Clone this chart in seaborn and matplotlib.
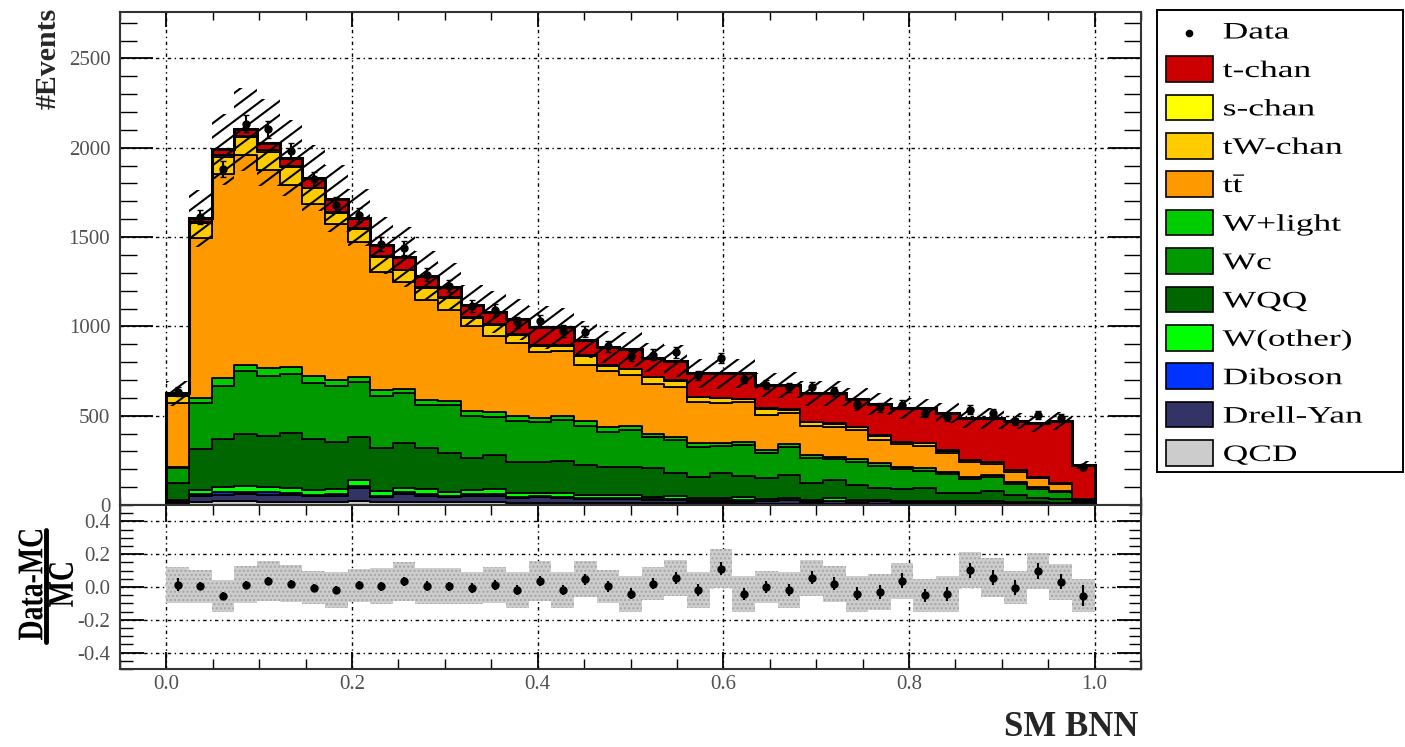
import numpy as np
import pandas as pd
import matplotlib
matplotlib.use("Agg")
import matplotlib.pyplot as plt
from matplotlib.patches import PathPatch, Rectangle
from matplotlib.lines import Line2D
from matplotlib.collections import LineCollection
from matplotlib.textpath import TextPath
from matplotlib.font_manager import FontProperties
from matplotlib.transforms import Affine2D, IdentityTransform
from matplotlib.ticker import MultipleLocator, FormatStrFormatter
import seaborn as sns

# 41 equal bins of the SM BNN output between 0 and 1
n_bins = 41
bin_edges = np.linspace(0.0, 1.0, n_bins + 1)
bin_centers = 0.5 * (bin_edges[:-1] + bin_edges[1:])

# legend order (top of stack first)
processes = ["t-chan", "s-chan", "tW-chan", "ttbar", "W+light", "Wc", "WQQ",
             "W(other)", "Diboson", "Drell-Yan", "QCD"]
labels = ["t-chan", "s-chan", "tW-chan", r"$\mathrm{t\bar{t}}$", "W+light", "Wc", "WQQ",
          "W(other)", "Diboson", "Drell-Yan", "QCD"]
colors = ["#cc0000", "#ffff00", "#ffcc00", "#ff9900", "#00cc00", "#009900", "#006600",
          "#00ff00", "#0033ff", "#333366", "#cccccc"]

# events per bin
tchan = [10, 20, 34, 39, 43, 45, 54, 75, 61, 61, 71, 60, 59, 72, 69, 84, 99, 99, 87, 102, 107,
         107, 109, 132, 138, 143, 132, 138, 159, 168, 153, 171, 187, 192, 208, 233, 243, 274, 299, 345, 192]
schan = [2, 5, 6, 6, 6, 6, 5, 5, 5, 5, 5, 5, 5, 4, 4, 4, 4, 4, 4, 4, 4,
         4, 4, 3, 3, 3, 3, 3, 3, 3, 3, 3, 3, 3, 3, 2, 2, 2, 2, 2, 1]
tw = [44, 87, 96, 101, 105, 102, 89, 63, 70, 83, 64, 66, 63, 46, 61, 44, 34, 30, 52, 30, 33,
      37, 37, 25, 28, 14, 35, 19, 21, 16, 16, 26, 10, 16, 16, 11, 11, 8, 7, 8, 3]
ttbar = [359, 893, 1143, 1174, 1106, 1016, 962, 873, 755, 662, 600, 563, 512, 476, 425, 410, 368, 363, 313, 315, 285,
         277, 276, 233, 224, 224, 195, 172, 162, 168, 163, 130, 127, 125, 103, 81, 61, 56, 47, 35, 1]
wlight = [5, 28, 45, 34, 47, 38, 37, 34, 28, 32, 24, 28, 23, 26, 28, 26, 23, 23, 28, 24, 23,
          20, 20, 20, 15, 18, 18, 16, 18, 15, 16, 15, 14, 13, 12, 12, 13, 12, 10, 10, 4]
wc = [84, 261, 298, 352, 335, 331, 315, 311, 308, 294, 277, 242, 270, 237, 214, 230, 224, 227, 218, 199, 205,
      175, 181, 170, 153, 174, 141, 157, 137, 115, 128, 125, 110, 99, 105, 77, 75, 62, 55, 38, 5]
wqq = [91, 227, 270, 291, 287, 312, 287, 266, 242, 239, 251, 229, 218, 177, 192, 177, 173, 183, 168, 155, 158,
       160, 131, 115, 139, 117, 114, 128, 95, 102, 84, 63, 65, 68, 47, 49, 60, 41, 22, 20, 11]
wother = [10, 24, 29, 32, 29, 27, 25, 26, 33, 25, 27, 27, 20, 25, 26, 19, 19, 19, 17, 15, 16,
          11, 16, 11, 10, 19, 12, 11, 10, 15, 9, 7, 9, 9, 7, 7, 7, 6, 6, 4, 2]
diboson = [5, 10, 12, 12, 12, 10, 8, 10, 12, 8, 10, 9, 7, 8, 9, 6, 7, 6, 5, 5, 5,
           4, 4, 4, 3, 3, 3, 3, 3, 3, 2, 2, 2, 2, 2, 2, 2, 1, 1, 1, 1]
drellyan = [10, 32, 38, 42, 40, 38, 34, 36, 75, 30, 42, 36, 30, 36, 38, 28, 30, 28, 22, 24, 24,
            20, 20, 16, 16, 14, 12, 18, 10, 12, 10, 14, 8, 8, 7, 6, 6, 4, 4, 3, 2]
qcd = [5, 18, 20, 20, 18, 18, 15, 16, 20, 15, 18, 16, 14, 15, 15, 12, 13, 12, 12, 12, 11,
       10, 10, 9, 9, 9, 8, 8, 7, 8, 7, 7, 6, 6, 6, 5, 5, 4, 4, 4, 3]

data = [634, 1611, 1881, 2135, 2103, 1984, 1824, 1681, 1625, 1460, 1438, 1289, 1226, 1115, 1092, 1023, 1031, 974,
        970, 889, 835, 842, 854, 726, 821, 708, 673, 660, 661, 638, 567, 546, 562, 513, 493, 534, 513, 468, 502, 485, 213]

# relative MC uncertainty per bin (hatched band / grey band)
syst_frac = [0.11, 0.10, 0.10, 0.11, 0.12, 0.11, 0.10, 0.11, 0.10, 0.11, 0.12, 0.11, 0.11, 0.10, 0.11, 0.11, 0.12,
             0.11, 0.11, 0.10, 0.11, 0.10, 0.11, 0.11, 0.12, 0.11, 0.10, 0.11, 0.11, 0.11, 0.11, 0.11, 0.11, 0.10,
             0.11, 0.11, 0.12, 0.10, 0.11, 0.11, 0.10]

series = [tchan, schan, tw, ttbar, wlight, wc, wqq, wother, diboson, drellyan, qcd]
df = pd.concat([pd.DataFrame({"x": bin_centers, "w": vals, "process": p})
                for p, vals in zip(processes, series)], ignore_index=True)

mc_total = np.sum(np.array(series, dtype=float), axis=0)
data = np.array(data, dtype=float)
syst = np.array(syst_frac)
ratio = (data - mc_total) / mc_total
ratio_err = np.sqrt(data) / mc_total

sns.set_style("ticks")
plt.rcParams["font.family"] = ["Liberation Serif", "DejaVu Serif"]
plt.rcParams["mathtext.fontset"] = "custom"
plt.rcParams["mathtext.rm"] = "Liberation Serif"
plt.rcParams["mathtext.bf"] = "Liberation Serif:bold"

W, H = 1405, 747
PX = 100 / 72  # pixels per point
fig = plt.figure(figsize=(W / 100, H / 100), dpi=100)
ax = fig.add_axes([120 / W, 1 - 505 / H, 1021 / W, 493 / H])
ax2 = fig.add_axes([120 / W, 1 - 669 / H, 1021 / W, 164 / H], sharex=ax)


def wide_text(x, y, s, size, sx=1.0, sy=1.0, weight="normal", rotation=0, center=False):
    # ROOT-like stretched text; (x, y) in pixels from top-left
    prop = FontProperties(family="Liberation Serif", weight=weight)
    path = TextPath((0, 0), s, size=size, prop=prop)
    tr = Affine2D().scale(sx * PX, sy * PX).rotate_deg(rotation)
    if center:
        bb = tr.transform_path(path).get_extents()
        tr = tr.translate(x - (bb.x0 + bb.x1) / 2, (H - y) - (bb.y0 + bb.y1) / 2)
    else:
        tr = tr.translate(x, H - y)
    fig.add_artist(PathPatch(tr.transform_path(path), facecolor="black", edgecolor="none",
                             transform=IdentityTransform(), zorder=6))


grid_style = dict(color="black", linestyle=(0, (2.5, 2.5, 1, 2.5)), linewidth=1.0)

# stacked MC
sns.histplot(data=df, x="x", weights="w", hue="process", hue_order=processes, palette=colors,
             multiple="stack", bins=n_bins, binrange=(0, 1), element="step", fill=True, alpha=1,
             edgecolor="black", linewidth=1.3, legend=False, ax=ax)
ax.stairs(mc_total, bin_edges, color="black", linewidth=2.2)

# MC uncertainty band, hatched with shallow ROOT-style lines
band = ax.stairs(mc_total * (1 + syst), bin_edges, baseline=mc_total * (1 - syst), fill=True,
                 facecolor="none", edgecolor="none", linewidth=0)
slope = 0.75 * 1021 / 493
offsets = np.arange(-slope, 1.0, 14 / 493)
hatch = LineCollection([[(0, c), (1, c + slope)] for c in offsets], colors="black",
                       linewidths=1.5, transform=ax.transAxes, zorder=4)
ax.add_collection(hatch, autolim=False)
hatch.set_clip_path(band)

ax.errorbar(bin_centers, data, yerr=np.sqrt(data), fmt="o", color="black", ms=5,
            elinewidth=1.5, capsize=2, zorder=5)

ax.set_xlim(-0.05, 1.05)
ax.set_ylim(0, 2760)
ax.set_axisbelow(True)
ax.grid(True, which="major", **grid_style)
ax.set_xlabel("")
ax.set_ylabel("")
ax.yaxis.set_major_locator(MultipleLocator(500))
ax.yaxis.set_minor_locator(MultipleLocator(100))
ax.xaxis.set_major_locator(MultipleLocator(0.2))
ax.xaxis.set_minor_locator(MultipleLocator(0.05))
ax.tick_params(axis="both", which="both", direction="in", top=True, right=True,
               labelsize=15, labelcolor="#505050", color="black")
ax.tick_params(axis="y", which="major", length=24, width=1.3, pad=7)
ax.tick_params(axis="y", which="minor", length=12, width=1.0)
ax.tick_params(axis="x", which="major", length=11, width=1.3, labelbottom=False)
ax.tick_params(axis="x", which="minor", length=6, width=1.0)

# ratio panel
ax2.stairs(ratio + syst, bin_edges, baseline=ratio - syst, fill=True, facecolor="#cdcdcd",
           edgecolor="#a5a5a5", hatch="....", linewidth=0)
ax2.errorbar(bin_centers, ratio, yerr=ratio_err, fmt="o", color="black", ms=5,
             elinewidth=1.5, capsize=0, zorder=5)
ax2.set_ylim(-0.5, 0.5)
ax2.set_axisbelow(True)
ax2.grid(True, which="major", **grid_style)
ax2.yaxis.set_major_locator(MultipleLocator(0.2))
ax2.yaxis.set_minor_locator(MultipleLocator(0.05))
ax2.yaxis.set_major_formatter(FormatStrFormatter("%.1f"))
ax2.xaxis.set_major_formatter(FormatStrFormatter("%.1f"))
ax2.tick_params(axis="both", which="both", direction="in", top=True, right=True,
                labelsize=15, labelcolor="#505050", color="black")
ax2.tick_params(axis="y", which="major", length=17, width=1.3, pad=7)
ax2.tick_params(axis="y", which="minor", length=9, width=1.0)
ax2.tick_params(axis="x", which="major", length=12, width=1.3, pad=4)
ax2.tick_params(axis="x", which="minor", length=7, width=1.0)

for a in (ax, ax2):
    for s in a.spines.values():
        s.set_linewidth(1.5)
        s.set_color("#333333")

# axis titles
fig.text(48 / W, 1 - 8 / H, "#Events", rotation=90, ha="center", va="top",
         fontsize=21.5, fontweight="bold")
wide_text(30.5, 585, "Data-MC", 20, sy=1.3, weight="bold", rotation=90, center=True)
wide_text(61, 585, "MC", 20, sy=1.3, weight="bold", rotation=90, center=True)
fig.add_artist(Line2D([45.5 / W, 45.5 / W], [1 - 530 / H, 1 - 642 / H],
                      transform=fig.transFigure, color="black", linewidth=3.5))
fig.text(1138 / W, 3 / H, "SM BNN", ha="right", va="bottom", fontsize=25, fontweight="bold")

# legend box drawn ROOT style
fig.add_artist(Rectangle((1157 / W, 1 - 472 / H), 246 / W, 462 / H, transform=fig.transFigure,
                         facecolor="white", edgecolor="black", linewidth=1.4, zorder=3))
fig.add_artist(Line2D([1189 / W], [1 - 33 / H], transform=fig.transFigure, marker="o",
                      markersize=4.5, color="black", linestyle="none", zorder=4))
wide_text(1222.7, 38.5, "Data", 17, sx=1.5)
for k, (lab, col) in enumerate(zip(labels, colors)):
    yc = 69 + 38.4 * k
    fig.add_artist(Rectangle((1166 / W, 1 - (yc + 12.8) / H), 46.7 / W, 25.6 / H,
                             transform=fig.transFigure, facecolor=col, edgecolor="black",
                             linewidth=1.2, zorder=4))
    wide_text(1222.7, yc + 8, lab, 17, sx=1.5)

fig.savefig("out.png", dpi=100)
